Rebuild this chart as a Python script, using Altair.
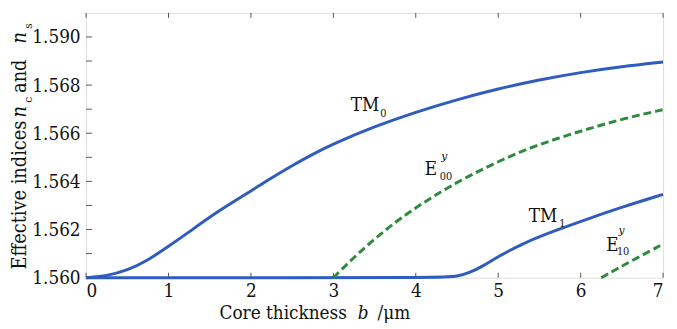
import altair as alt
import pandas as pd

# ---------------- data ----------------
tm0_b = [0.0, 0.25, 0.5, 0.75, 1.0, 1.25, 1.5, 1.75, 2.0, 2.25, 2.5, 2.75, 3.0, 3.5, 4.0, 4.5,
         5.0, 5.5, 6.0, 6.5, 7.0]
tm0_n = [1.56000, 1.56007, 1.56030, 1.56072, 1.56130, 1.56190, 1.56252, 1.56307, 1.56360,
         1.56415, 1.56466, 1.56513, 1.56556, 1.56628, 1.56688, 1.56740, 1.56785, 1.56822,
         1.56853, 1.56877, 1.56896]

tm1_b = [0.0, 2.0, 4.35, 4.5, 4.65, 4.8, 5.0, 5.3, 5.7, 6.1, 6.5, 7.0]
tm1_n = [1.56000, 1.56000, 1.56000, 1.56005, 1.56020, 1.56045, 1.56088, 1.56143, 1.56197,
         1.56246, 1.56293, 1.56346]

e00_b = [3.0, 3.31, 3.71, 4.11, 4.51, 4.91, 5.31, 5.71, 6.11, 6.51, 7.0]
e00_n = [1.56000, 1.56105, 1.56222, 1.56317, 1.56399, 1.56468, 1.56530, 1.56578, 1.56620,
         1.56660, 1.56698]

e10_b = [6.25, 6.51, 7.0]
e10_n = [1.56000, 1.56050, 1.56140]

x_ticks = [0, 1, 2, 3, 4, 5, 6, 7]
y_ticks = [1.560, 1.562, 1.564, 1.566, 1.568, 1.570]
y_tick_labels = ["1.560", "1.562", "1.564", "1.566", "1.568", "1.590"]
y_minor = [1.560, 1.561, 1.562, 1.563, 1.564, 1.565, 1.566, 1.567, 1.568, 1.569, 1.570]

# curve labels (data coordinates)
lab_main = pd.DataFrame({"b": [3.21, 4.11, 5.37, 6.31], "n": [1.56694, 1.56427, 1.56230, 1.56111],
                         "t": ["TM", "E", "TM", "E"]})
lab_sub = pd.DataFrame({"b": [3.57, 4.29, 5.74, 6.44], "n": [1.56666, 1.56404, 1.56209, 1.56093],
                        "t": ["0", "00", "1", "10"]})
lab_sup = pd.DataFrame({"b": [4.31, 6.46], "n": [1.56490, 1.56180], "t": ["y", "y"]})

W, H = 584, 268
FONT = "DejaVu Serif Condensed, DejaVu Serif"
BLUE = "#2f5cbf"
GREEN = "#2e8b3c"
TXT = "#111"


def frame(b, n, name):
    return pd.DataFrame({"b": b, "n": n, "s": name})


blue_df = pd.concat([frame(tm0_b, tm0_n, "TM0"), frame(tm1_b, tm1_n, "TM1")])
green_df = pd.concat([frame(e00_b, e00_n, "E00"), frame(e10_b, e10_n, "E10")])

xs = alt.Scale(domain=[0, 7], nice=False)
ys = alt.Scale(domain=[1.560, 1.571], nice=False, zero=False)

codes = ",".join(str(round(v * 1000)) for v in y_ticks)
labs = ",".join("'" + s + "'" for s in y_tick_labels)
label_expr = f"[{labs}][indexof([{codes}], round(datum.value*1000))]"

x_axis = alt.Axis(values=x_ticks, ticks=False, domain=False, grid=False, title=None,
                  labelFont=FONT, labelFontSize=19, labelColor=TXT, labelPadding=4,
                  format="d")
y_axis = alt.Axis(values=y_ticks, ticks=False, domain=False, grid=False, title=None,
                  labelFont=FONT, labelFontSize=19, labelColor=TXT, labelPadding=6,
                  labelExpr=label_expr)

blue = alt.Chart(blue_df).mark_line(color=BLUE, strokeWidth=3, interpolate="basis").encode(
    x=alt.X("b:Q", scale=xs, axis=x_axis),
    y=alt.Y("n:Q", scale=ys, axis=y_axis),
    detail="s:N",
)
green = alt.Chart(green_df).mark_line(color=GREEN, strokeWidth=3, strokeDash=[8, 4],
                                      interpolate="basis").encode(
    x=alt.X("b:Q", scale=xs), y=alt.Y("n:Q", scale=ys), detail="s:N",
)

tick_color = "#555"
xt = pd.DataFrame({"b": x_ticks})
xt_bot = alt.Chart(xt).mark_rule(color=tick_color, strokeWidth=1).encode(
    x=alt.X("b:Q", scale=xs), y=alt.value(H), y2=alt.value(H - 5))
xt_top = alt.Chart(xt).mark_rule(color=tick_color, strokeWidth=1).encode(
    x=alt.X("b:Q", scale=xs), y=alt.value(0), y2=alt.value(5))
yt = pd.DataFrame({"n": y_minor})
yt_left = alt.Chart(yt).mark_rule(color=tick_color, strokeWidth=1).encode(
    y=alt.Y("n:Q", scale=ys), x=alt.value(0), x2=alt.value(6))

t_main = alt.Chart(lab_main).mark_text(font=FONT, fontSize=19, align="left", baseline="alphabetic",
                                       color=TXT).encode(
    x=alt.X("b:Q", scale=xs), y=alt.Y("n:Q", scale=ys), text="t:N")
t_sub = alt.Chart(lab_sub).mark_text(font=FONT, fontSize=11, align="left", baseline="alphabetic",
                                     color=TXT).encode(
    x=alt.X("b:Q", scale=xs), y=alt.Y("n:Q", scale=ys), text="t:N")
t_sup = alt.Chart(lab_sup).mark_text(font=FONT, fontSize=12, fontStyle="italic", align="left",
                                     baseline="alphabetic", color=TXT).encode(
    x=alt.X("b:Q", scale=xs), y=alt.Y("n:Q", scale=ys), text="t:N")

# axis titles composed of pieces (pixel positions relative to plot area)
yt_norm_r = pd.DataFrame({"px": [-61], "py": [109], "t": ["Effective indices"]})
yt_norm_l = pd.DataFrame({"px": [-61], "py": [81], "t": ["and"]})
yt_ital = pd.DataFrame({"px": [-61, -61], "py": [106, 31], "t": ["n", "n"]})
yt_sub = pd.DataFrame({"px": [-55, -55], "py": [91, 16], "t": ["c", "s"]})
xt_norm_r = pd.DataFrame({"px": [264], "py": [310], "t": ["Core thickness"]})
xt_norm_l = pd.DataFrame({"px": [295], "py": [310], "t": ["/μm"]})
xt_ital = pd.DataFrame({"px": [275], "py": [310], "t": ["b"]})


def piece(df, size, style="normal", angle=0, align="left"):
    kw = dict(font=FONT, fontSize=size, align=align, baseline="alphabetic", color=TXT)
    if style != "normal":
        kw["fontStyle"] = style
    if angle:
        kw["angle"] = angle
    return alt.Chart(df).mark_text(**kw).encode(
        x=alt.X("px:Q", scale=None), y=alt.Y("py:Q", scale=None), text="t:N")


titles = [
    piece(yt_norm_r, 20, angle=270, align="right"),
    piece(yt_norm_l, 20, angle=270),
    piece(yt_ital, 20, "italic", 270),
    piece(yt_sub, 12, angle=270),
    piece(xt_norm_r, 19, align="right"),
    piece(xt_norm_l, 19),
    piece(xt_ital, 19, "italic"),
]

chart = alt.layer(
    blue, green, xt_bot, xt_top, yt_left, t_main, t_sub, t_sup, *titles
).properties(
    width=W, height=H,
    autosize=alt.AutoSizeParams(type="none"),
    padding={"left": 79, "top": 3, "right": 6, "bottom": 50},
).configure_view(
    stroke="#444", strokeWidth=1.2
).configure(background="white")

chart.save("out.html", embed_options={"renderer": "svg", "actions": False})
